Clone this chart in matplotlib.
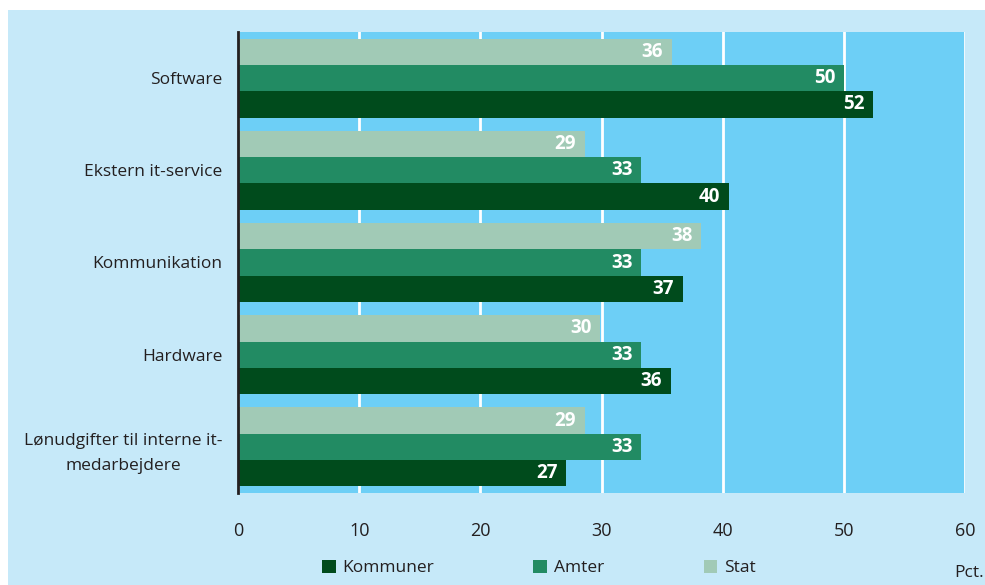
import matplotlib
matplotlib.use("Agg")
import matplotlib.pyplot as plt
from matplotlib.patches import Rectangle
import numpy as np

categories = ["Software", "Ekstern it-service", "Kommunikation", "Hardware",
              "Lønudgifter til interne it-\nmedarbejdere"]
series_names = ["Kommuner", "Amter", "Stat"]
kommuner = [52.4, 40.5, 36.7, 35.7, 27.1]
amter = [50.0, 33.3, 33.3, 33.3, 33.3]
stat = [35.8, 28.6, 38.2, 29.9, 28.6]
kommuner_lbl = [52, 40, 37, 36, 27]
amter_lbl = [50, 33, 33, 33, 33]
stat_lbl = [36, 29, 38, 30, 29]
xticks = [0, 10, 20, 30, 40, 50, 60]

colors = {"Kommuner": "#004b1c", "Amter": "#228b63", "Stat": "#a1cab6"}
bg = "#c6e9f9"
plot_bg = "#6dcff6"
txt = "#231f20"

plt.rcParams['font.family'] = ['Open Sans', 'DejaVu Sans']

fig = plt.figure(figsize=(9.85, 5.85), dpi=100, facecolor="white")
fig.patches.append(Rectangle((8/985, 0), 1, 1 - 10/585, transform=fig.transFigure,
                             facecolor=bg, edgecolor="none", zorder=-10))

ax = fig.add_axes([238/985, 1 - 493/585, (965-238)/985, (493-32)/585])
ax.set_zorder(2)
ax.set_facecolor(plot_bg)

n = len(categories)
y = np.arange(n)[::-1].astype(float)  # Software at top
h = 0.285
data = [("Kommuner", kommuner, kommuner_lbl, +h),
        ("Amter", amter, amter_lbl, 0.0),
        ("Stat", stat, stat_lbl, -h)]
for name, vals, lbls, off in data:
    bars = ax.barh(y - off, vals, height=h, color=colors[name], zorder=3, label=name)
    for b, v, l in zip(bars, vals, lbls):
        ax.text(v - 0.7, b.get_y() + b.get_height()/2, str(l), ha="right", va="center",
                color="white", fontsize=13.5, fontweight="bold", zorder=4)

ax.set_xlim(0, 60)
ax.set_ylim(-0.5, n - 0.5)
ax.set_xticks(xticks)
ax.set_xticklabels([str(t) for t in xticks], fontsize=13, color=txt)
ax.tick_params(axis="x", length=0, pad=21)
ax.set_yticks(y)
ax.set_yticklabels(categories, fontsize=12.5, color=txt, ha="right",
                   multialignment="center", linespacing=1.75)
ax.tick_params(axis="y", length=0, pad=11)
ax.grid(axis="x", color="white", linewidth=2, zorder=1)
ax.set_axisbelow(True)
for s in ["top", "right", "bottom"]:
    ax.spines[s].set_visible(False)
ax.spines["left"].set_color(txt)
ax.spines["left"].set_linewidth(2)
ax.spines["left"].set_zorder(5)

handles = [Rectangle((0, 0), 1, 1, facecolor=colors[s]) for s in series_names]
leg = fig.legend(handles, series_names, loc="center", bbox_to_anchor=(539/985, 1 - 568/585),
                 ncol=3, frameon=False, fontsize=12.5, handlelength=0.8, handleheight=0.8,
                 handletextpad=0.4, columnspacing=5.7)
for t in leg.get_texts():
    t.set_color(txt)
fig.text(984/985, 1 - 573/585, "Pct.", ha="right", va="center", fontsize=12.5, color=txt)

fig.savefig("out.png", dpi=100, facecolor=fig.get_facecolor())
